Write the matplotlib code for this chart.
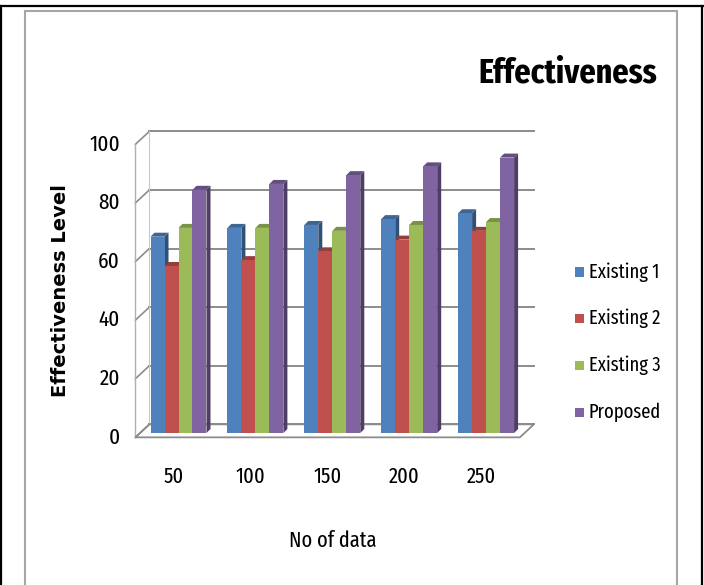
import numpy as np
import matplotlib
matplotlib.use("Agg")
import matplotlib.pyplot as plt
from matplotlib.patches import Polygon, Rectangle
from matplotlib.lines import Line2D
from matplotlib.colors import to_rgb

# chart data
categories = ["50", "100", "150", "200", "250"]
series_names = ["Existing 1", "Existing 2", "Existing 3", "Proposed"]
existing_1 = [67, 70, 71, 73, 75]
existing_2 = [57, 59, 62, 66, 69]
existing_3 = [70, 70, 69, 71, 72]
proposed = [83, 85, 88, 91, 94]
y_ticks = [0, 20, 40, 60, 80, 100]

series = [existing_1, existing_2, existing_3, proposed]
colors = ["#4F81BD", "#C0504D", "#9BBB59", "#8064A2"]

narrow = ["Fira Sans Extra Condensed", "DejaVu Sans"]


def shade(c, f):
    r, g, b = to_rgb(c)
    return (r * f, g * f, b * f)


fig = plt.figure(figsize=(7.04, 5.85), dpi=100)
W, H = 704, 585

# page frame lines
fig.add_artist(Line2D([0, 1], [1 - 6 / H, 1 - 6 / H], color="black", lw=1.6))
fig.add_artist(Line2D([1 / W, 1 / W], [0, 1 - 6 / H], color="black", lw=1.6))
fig.add_artist(Line2D([702 / W, 702 / W], [0, 1 - 6 / H], color="black", lw=1.6))
# chart area border
fig.add_artist(Rectangle((25 / W, -0.05), 652 / W, 1.05 - 11 / H,
                         fill=False, ec="#A6A6A6", lw=1.5))

# axes in "bar plane" coordinates
px_cat = 76.9
px_val = 2.93
x0_px, y0_px = 178.5, 433
ax_l, ax_r, ax_t, ax_b = 100, 560, 120, 450
ax = fig.add_axes([ax_l / W, 1 - ax_b / H, (ax_r - ax_l) / W, (ax_b - ax_t) / H])
ax.set_xlim((ax_l - x0_px) / px_cat, (ax_r - x0_px) / px_cat)
ax.set_ylim((y0_px - ax_b) / px_val, (y0_px - ax_t) / px_val)
ax.axis("off")

# depth of the box, front plane -> back plane
ddx = 14 / px_cat
ddy = 13 / px_val
fx, fy = -ddx / 3, -ddy / 3          # front plane offset
bx, by = 2 * ddx / 3, 2 * ddy / 3    # back plane offset
n = len(categories)
left, right = -0.5, n - 0.5
grid_c = "#8C8C8C"

# back wall gridlines and side wall
for v in y_ticks:
    ax.plot([left + bx, right + bx], [v + by, v + by], color=grid_c, lw=1.4, zorder=1)
    ax.plot([left + fx, left + bx], [v + fy, v + by], color=grid_c, lw=1.2, zorder=1)
ax.plot([left + fx, left + fx], [fy, 100 + fy], color="#B0B0B0", lw=1.0, zorder=1)
ax.plot([left + bx, left + bx], [by, 100 + by], color="#C8C8C8", lw=0.8, zorder=1)
# floor
floor = Polygon([(left + fx, fy), (right + fx, fy), (right + bx, by), (left + bx, by)],
                closed=True, fill=False, ec=grid_c, lw=1.3, zorder=1)
ax.add_patch(floor)

# 3d columns
bw = 0.182
dx, dy = 4 / px_cat, 4 / px_val
x = np.arange(n)
for i, c in enumerate(x):
    for k, vals in enumerate(series):
        v = vals[i]
        xs = c - 2 * bw + k * bw
        col = colors[k]
        z = 3 + k
        ax.add_patch(Polygon([(xs + bw, 0), (xs + bw + dx, dy), (xs + bw + dx, v + dy), (xs + bw, v)],
                             closed=True, fc=shade(col, 0.62), ec="none", zorder=z))
        ax.add_patch(Polygon([(xs, v), (xs + bw, v), (xs + bw + dx, v + dy), (xs + dx, v + dy)],
                             closed=True, fc=shade(col, 0.78), ec="none", zorder=z))
        ax.bar(xs, v, width=bw, align="edge", color=col, zorder=z)

# value axis labels
for v in y_ticks:
    ax.text(left + fx - 0.2, v + fy, str(v), ha="right", va="center",
            fontsize=16.5, family=narrow)
# category labels
for i, lab in enumerate(categories):
    ax.text(x[i] + fx, -15, lab, ha="center", va="center", fontsize=16, family=narrow)

fig.text(61 / W, 1 - 291 / H, "Effectiveness Level", rotation=90, ha="center", va="center",
         fontsize=14, fontweight="bold", family="DejaVu Sans")
fig.text(333 / W, 1 - 541 / H, "No of data", ha="center", va="center", fontsize=16, family=narrow)
fig.text(568 / W, 1 - 73 / H, "Effectiveness", ha="center", va="center", fontsize=25,
         fontweight="bold", family=narrow)

# legend
for k, name in enumerate(series_names):
    yk = 272 + k * 46.7
    fig.add_artist(Rectangle((575 / W, 1 - (yk + 4.5) / H), 9 / W, 9 / H,
                             fc=colors[k], ec="none"))
    fig.text(589 / W, 1 - yk / H, name, ha="left", va="center", fontsize=14.5, family=narrow)

fig.savefig("out.png", dpi=100, facecolor="white")
